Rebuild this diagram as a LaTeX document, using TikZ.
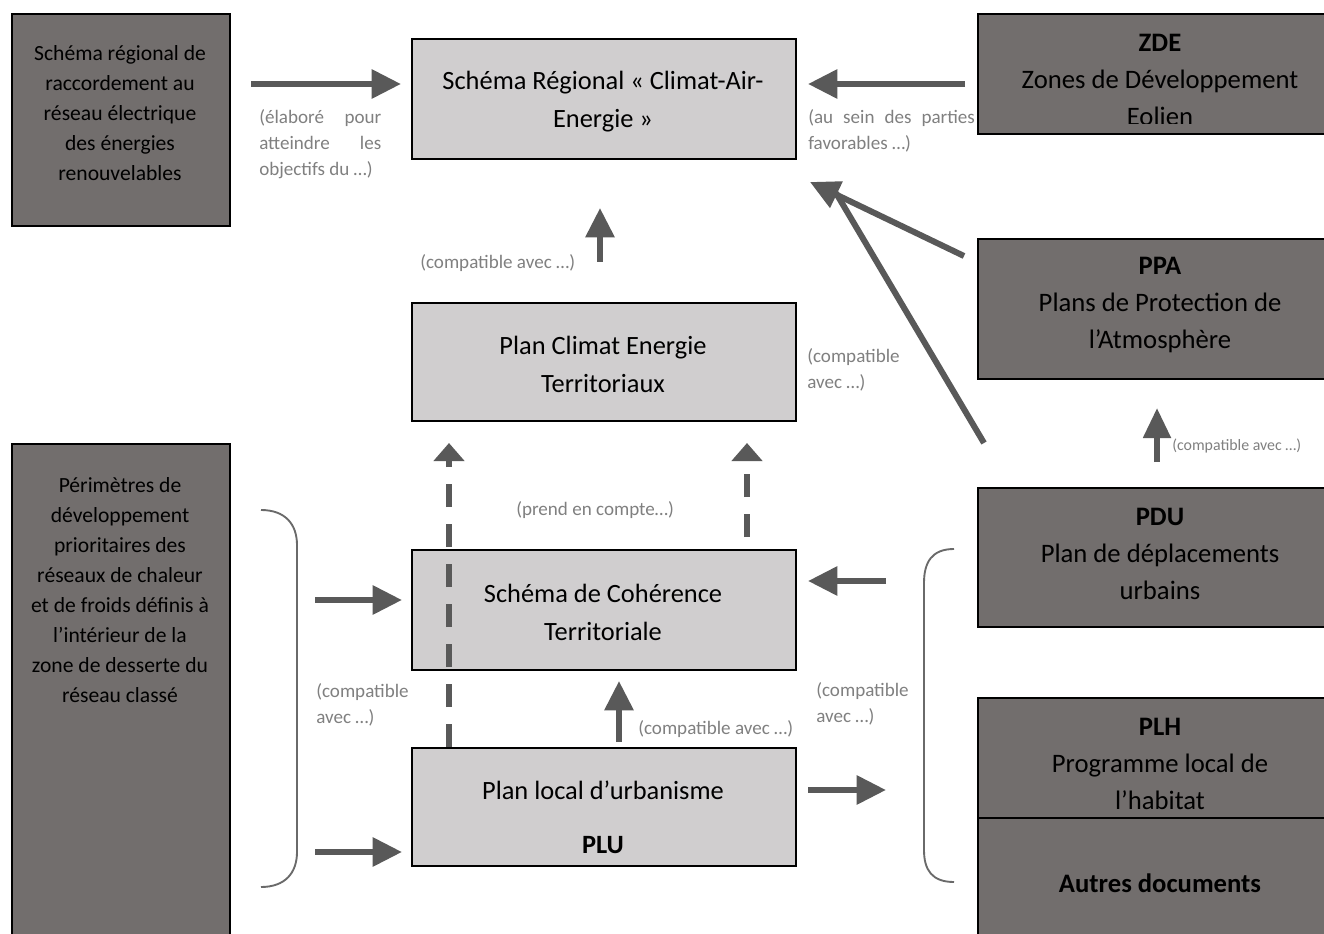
\documentclass[tikz,border=0pt]{standalone}
\usepackage{fontspec}
\setmainfont{Carlito}
\usetikzlibrary{arrows.meta}
\definecolor{darkbox}{HTML}{726E6D}
\definecolor{lightbox}{HTML}{D0CECF}
\definecolor{arrowc}{HTML}{595959}
\definecolor{labelc}{HTML}{808080}
\definecolor{bracec}{HTML}{6A6A6A}
\begin{document}
\begin{tikzpicture}[x=0.75pt,y=-0.75pt,
  boxd/.style={draw=black, line width=1.5pt, fill=darkbox, anchor=north west, inner sep=0pt},
  boxl/.style={draw=black, line width=1.5pt, fill=lightbox, anchor=north west, inner sep=0pt},
  smalltxt/.style={align=center, inner sep=0pt, font=\fontsize{16.2}{22.5}\selectfont},
  midtxt/.style={align=center, inner sep=0pt, font=\fontsize{19.8}{28.5}\selectfont},
  righttxt/.style={align=center, inner sep=0pt, font=\fontsize{20}{27.75}\selectfont},
  lbl/.style={text=labelc, align=left, inner sep=0pt, anchor=north west, font=\fontsize{14.3}{19.5}\selectfont},
  arr/.style={draw=arrowc, line width=4.5pt, -{Triangle[length=22pt,width=21pt]}},
  dasharr/.style={draw=arrowc, line width=4.5pt, dash pattern=on 17pt off 13pt, -{Triangle[length=13.5pt,width=22.5pt]}},
  plain/.style={draw=arrowc, line width=4.5pt},
  bracel/.style={draw=bracec, line width=1.4pt}
]
\clip (0,0) rectangle (1324,934);
\fill[white] (0,0) rectangle (1324,934);

% ---- boxes ----
\node[boxd, minimum width=218*0.75pt, minimum height=212*0.75pt] (srrr) at (11,13) {};
\node[boxl, minimum width=384*0.75pt, minimum height=120*0.75pt] (srcae) at (411,38) {};
\node[boxd, minimum width=380*0.75pt, minimum height=120*0.75pt] (zde) at (977,13) {};
\node[boxd, minimum width=380*0.75pt, minimum height=140*0.75pt] (ppa) at (977,238) {};
\node[boxl, minimum width=384*0.75pt, minimum height=118*0.75pt] (pcet) at (411,302) {};
\node[boxl, minimum width=384*0.75pt, minimum height=120*0.75pt] (scot) at (411,549) {};
\node[boxl, minimum width=384*0.75pt, minimum height=118*0.75pt] (plu) at (411,747) {};
\node[boxd, minimum width=218*0.75pt, minimum height=520*0.75pt] (perim) at (11,443) {};
\node[boxd, minimum width=380*0.75pt, minimum height=139*0.75pt] (pdu) at (977,487) {};
\node[boxd, minimum width=380*0.75pt, minimum height=120*0.75pt] (plh) at (977,697) {};
\node[boxd, minimum width=380*0.75pt, minimum height=140*0.75pt] (autres) at (977,817) {};

% ---- box texts ----
\node[smalltxt] (srrrT) at (120,113) {Schéma régional de\\raccordement au\\réseau électrique\\des énergies\\renouvelables};
\node[midtxt] (srcaeT) at (603,102) {Schéma Régional « Climat-Air-\\Energie »};
\begin{scope}
\clip (977,13) rectangle (1324,124);
\node[righttxt] (zdeT) at (1160,80) {\textbf{ZDE}\\Zones de Développement\\Eolien};
\end{scope}
\node[righttxt] (ppaT) at (1160,305) {\textbf{PPA}\\Plans de Protection de\\l’Atmosphère};
\node[midtxt] (pcetT) at (603,364) {Plan Climat Energie\\Territoriaux};
\node[midtxt] (scotT) at (603,612) {Schéma de Cohérence\\Territoriale};
\node[midtxt] (pluT) at (603,790) {Plan local d’urbanisme};
\node[midtxt, font=\fontsize{19.8}{28.5}\selectfont\bfseries] (pluB) at (603,845) {PLU};
\node[smalltxt] (perimT) at (120,590) {Périmètres de\\développement\\prioritaires des\\réseaux de chaleur\\et de froids définis à\\l’intérieur de la\\zone de desserte du\\réseau classé};
\node[righttxt] (pduT) at (1160,554) {\textbf{PDU}\\Plan de déplacements\\urbains};
\node[righttxt] (plhT) at (1160,764) {\textbf{PLH}\\Programme local de\\l’habitat};
\node[righttxt, font=\fontsize{20}{27.75}\selectfont\bfseries] (autresT) at (1160,883) {Autres documents};

% ---- connector end points ----
\coordinate (c1s) at (251,84);  \coordinate (c1e) at (401,84);
\coordinate (c2s) at (965,84);  \coordinate (c2e) at (808,84);
\coordinate (c3s) at (600,262); \coordinate (c3e) at (600,208);
\coordinate (c4s) at (964,256); \coordinate (c4e) at (810,182);
\coordinate (c5s) at (984,443); \coordinate (c5e) at (836,193);
\coordinate (c6s) at (1157,462); \coordinate (c6e) at (1157,408);
\coordinate (c7s) at (449,747); \coordinate (c7e) at (449,443);
\coordinate (c8s) at (747,537); \coordinate (c8e) at (747,443);
\coordinate (c9s) at (619,742); \coordinate (c9e) at (619,681);
\coordinate (c10s) at (315,600); \coordinate (c10e) at (402,600);
\coordinate (c11s) at (315,852); \coordinate (c11e) at (402,852);
\coordinate (c12s) at (886,581); \coordinate (c12e) at (808,581);
\coordinate (c13s) at (808,790); \coordinate (c13e) at (886,790);

% ---- connectors ----
\draw[arr] (c1s) -- (c1e);
\draw[arr] (c2s) -- (c2e);
\draw[arr] (c3s) -- (c3e);
\draw[plain] (c5s) -- (c5e);
\draw[arr] (c4s) -- (c4e);
\draw[arr, -{Triangle[length=22.5pt,width=20pt]}] (c6s) -- (c6e);
\draw[dasharr] (c7s) -- (c7e);
\draw[dasharr] (c8s) -- (c8e);
\draw[arr] (c9s) -- (c9e);
\draw[arr] (c10s) -- (c10e);
\draw[arr] (c11s) -- (c11e);
\draw[arr] (c12s) -- (c12e);
\draw[arr] (c13s) -- (c13e);

% ---- braces ----
\draw[bracel] (261,510) .. controls (285,510) and (297,524) .. (297,545) -- (297,852) .. controls (297,873) and (285,887) .. (261,887);
\draw[bracel] (954,549) .. controls (932,549) and (924,562) .. (924,583) -- (924,850) .. controls (924,870) and (932,882) .. (954,882);

% ---- labels ----
\node[lbl] (l1) at (259,109) {\makebox[91.5pt][s]{(élaboré pour}\\\makebox[91.5pt][s]{atteindre les}\\objectifs du …)};
\node[lbl] (l2) at (808,109) {\makebox[125pt][s]{(au sein des parties}\\favorables …)};
\node[lbl] (l3) at (420,254) {(compatible avec …)};
\node[lbl] (l4) at (807,348) {(compatible\\avec …)};
\node[lbl] (l5) at (516,501) {(prend en compte…)};
\node[lbl] (l6) at (316,683) {(compatible\\avec …)};
\node[lbl] (l7) at (638,720) {(compatible avec …)};
\node[lbl] (l8) at (816,682) {(compatible\\avec …)};
\node[lbl, font=\fontsize{11.9}{14}\selectfont] (l9) at (1172,439) {(compatible avec …)};
\end{tikzpicture}
\end{document}
